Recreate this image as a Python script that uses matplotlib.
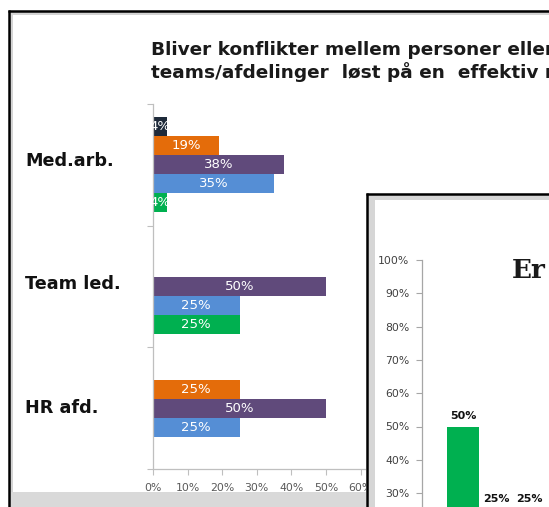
import matplotlib
matplotlib.use("Agg")
import matplotlib.pyplot as plt
from matplotlib.patches import Rectangle
from matplotlib.ticker import PercentFormatter

# ---------------- data ----------------
categories = ["Med.arb.", "Team led.", "HR afd."]
series_navy = [0.04, 0.0, 0.0]
series_orange = [0.19, 0.0, 0.25]
series_purple = [0.38, 0.50, 0.50]
series_blue = [0.35, 0.25, 0.25]
series_green = [0.04, 0.25, 0.0]
x_ticks = [0.0, 0.1, 0.2, 0.3, 0.4, 0.5, 0.6]

title_line1 = "Bliver konflikter mellem personer eller"
title_line2 = "teams/afdelinger  løst på en  effektiv måde?"

second_title = "Er"
second_values = [0.50, 0.25, 0.25]
second_ticks = [0.3, 0.4, 0.5, 0.6, 0.7, 0.8, 0.9, 1.0]

# ---------------- styling ----------------
W, H = 549, 507
C_NAVY = "#1e2a3a"
C_ORANGE = "#e46c0a"
C_PURPLE = "#604a7b"
C_BLUE = "#558ed5"
C_GREEN = "#00b050"
AX_GREY = "#bfbfbf"
SANS = ["DejaVu Sans"]


def rect(x0, y0, x1, y1):
    return [x0 / W, 1 - y1 / H, (x1 - x0) / W, (y1 - y0) / H]


fig = plt.figure(figsize=(W / 100, H / 100), dpi=100)
fig.patch.set_facecolor("white")

# background frame (slide)
bg = fig.add_axes([0, 0, 1, 1], zorder=0)
bg.set_xlim(0, W)
bg.set_ylim(H, 0)
bg.axis("off")
bg.add_patch(Rectangle((10, 12), 3, H, facecolor="#d4d4d4", edgecolor="none"))
bg.add_patch(Rectangle((10, 12), W, 3, facecolor="#d4d4d4", edgecolor="none"))
bg.add_patch(Rectangle((10, 492), 360, 20, facecolor="#d9d9d9", edgecolor="none"))
bg.plot([9, 9], [10, H + 5], color="black", lw=1.8, solid_capstyle="butt")
bg.plot([8, W + 5], [10.5, 10.5], color="black", lw=1.8, solid_capstyle="butt")

# title
fig.text(151 / W, 1 - 50 / H, title_line1, fontsize=13.3, fontweight="bold",
         family=SANS, color="#1a1a1a", va="center", ha="left")
fig.text(151 / W, 1 - 72 / H, title_line2, fontsize=13.3, fontweight="bold",
         family=SANS, color="#1a1a1a", va="center", ha="left")

# ---------------- left horizontal bar chart ----------------
ax1 = fig.add_axes(rect(153, 104, 153 + 34.6 * 7, 469), zorder=1)
ax1.set_facecolor("none")
ax1.set_xlim(0, 0.7)
ax1.set_ylim(2.5, -0.5)
for s in ["top", "right"]:
    ax1.spines[s].set_visible(False)
for s in ["left", "bottom"]:
    ax1.spines[s].set_color(AX_GREY)
    ax1.spines[s].set_linewidth(0.9)
ax1.set_xticks(x_ticks)
ax1.xaxis.set_major_formatter(PercentFormatter(1.0, decimals=0))
ax1.tick_params(axis="x", length=4, color=AX_GREY, labelsize=7.8,
                labelcolor="#595959", pad=6)
ax1.set_yticks([-0.5, 0.5, 1.5, 2.5])
ax1.set_yticklabels([])
ax1.tick_params(axis="y", length=4, color=AX_GREY)
for lab in ax1.get_xticklabels():
    lab.set_family(SANS)

series = [series_navy, series_orange, series_purple, series_blue, series_green]
colors = [C_NAVY, C_ORANGE, C_PURPLE, C_BLUE, C_GREEN]
h = 0.156
ypos = list(range(len(categories)))
for k, (vals, col) in enumerate(zip(series, colors)):
    ys = [y + (k - 2) * h for y in ypos]
    bars = ax1.barh(ys, vals, height=h, color=col, edgecolor="none")
    for bar, v, yy in zip(bars, vals, ys):
        if v > 0:
            t = ax1.text(v / 2, yy, f"{round(v * 100)}%", ha="center", va="center",
                         color="white", fontsize=9.5, family=SANS)
            t.set_clip_path(bar)

cat_y = [161, 284, 408]
for cat, yy in zip(categories, cat_y):
    fig.text(25 / W, 1 - yy / H, cat, fontsize=12.7, fontweight="bold",
             family=SANS, color="#111111", va="center", ha="left")

# ---------------- overlay frame of second slide ----------------
ov = fig.add_axes([0, 0, 1, 1], zorder=5)
ov.set_facecolor("none")
ov.set_xlim(0, W)
ov.set_ylim(H, 0)
ov.axis("off")
ov.add_patch(Rectangle((366, 193), W, H, facecolor="white", edgecolor="none"))
ov.add_patch(Rectangle((367, 195), 8, H, facecolor="#d6d6d6", edgecolor="none"))
ov.add_patch(Rectangle((367, 195), W, 5, facecolor="#d6d6d6", edgecolor="none"))
ov.plot([366.5, 366.5], [193, H + 5], color="black", lw=1.8, solid_capstyle="butt")
ov.plot([366, W + 5], [194, 194], color="black", lw=1.8, solid_capstyle="butt")

# ---------------- second (vertical) bar chart ----------------
ax3 = fig.add_axes(rect(422, 260, 422 + 33 * 8.25, 593), zorder=6)
ax3.set_facecolor("none")
ax3.set_ylim(0, 1)
ax3.set_xlim(-1.25, 7)
for s in ["top", "right", "bottom"]:
    ax3.spines[s].set_visible(False)
ax3.spines["left"].set_color("#a6a6a6")
ax3.spines["left"].set_linewidth(0.9)
ax3.set_xticks([])
ax3.set_yticks(second_ticks)
ax3.yaxis.set_major_formatter(PercentFormatter(1.0, decimals=0))
ax3.tick_params(axis="y", length=4, color="#a6a6a6", labelsize=7.8,
                labelcolor="#404040", pad=5)
for lab in ax3.get_yticklabels():
    lab.set_family(SANS)

sec_colors = [C_GREEN, C_BLUE, C_PURPLE]
xs = list(range(len(second_values)))
ax3.bar(xs, second_values, width=0.97, color=sec_colors, edgecolor="none")
for x, v in zip(xs, second_values):
    ax3.annotate(f"{round(v * 100)}%", (x, v), xytext=(0, 4), textcoords="offset points",
                 ha="center", va="bottom", fontsize=8, fontweight="bold",
                 family=SANS, color="#111111", annotation_clip=False)

fig.text(512 / W, 1 - 270 / H, second_title, fontsize=19, fontweight="bold",
         family=["DejaVu Serif"], color="#1a1a1a",
         va="center", ha="left", zorder=7)

fig.savefig("out.png", dpi=100)
